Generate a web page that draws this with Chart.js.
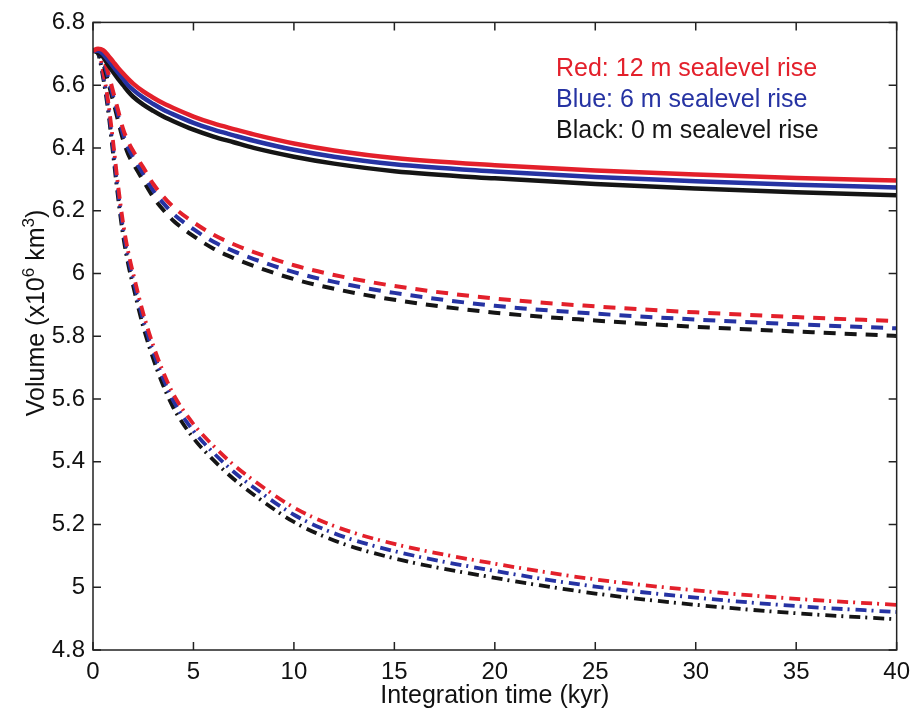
<!DOCTYPE html>
<html>
<head>
<meta charset="utf-8">
<script src="https://cdn.jsdelivr.net/npm/chart.js@4.4.1/dist/chart.umd.min.js"></script>
<style>
	html, body { margin: 0; padding: 0; background: #fff; }
	#wrap { width: 918px; height: 713px; }
</style>
</head>
<body>
<div id="wrap"><canvas id="volChart" width="918" height="713"></canvas></div>
<script>
// integration time, kyr
const timeKyr = [0, 0.25, 0.5, 0.75, 1, 1.25, 1.5, 1.75, 2, 2.5, 3, 3.5, 4, 5, 6, 7, 8, 10, 12, 15, 20, 25, 30, 35, 40];

// ice volume (x10^6 km^3) - solid runs
const solidRed   = [6.71, 6.716, 6.712, 6.695, 6.675, 6.655, 6.637, 6.62, 6.605, 6.58, 6.56, 6.542, 6.527, 6.50, 6.478, 6.46, 6.443, 6.414, 6.392, 6.368, 6.345, 6.328, 6.315, 6.304, 6.296];
const solidBlue  = [6.71, 6.71, 6.70, 6.68, 6.66, 6.64, 6.62, 6.60, 6.585, 6.56, 6.54, 6.522, 6.507, 6.48, 6.458, 6.44, 6.423, 6.394, 6.372, 6.348, 6.325, 6.307, 6.294, 6.283, 6.274];
const solidBlack = [6.71, 6.705, 6.69, 6.665, 6.642, 6.62, 6.60, 6.58, 6.563, 6.538, 6.518, 6.50, 6.485, 6.458, 6.436, 6.418, 6.40, 6.372, 6.35, 6.326, 6.303, 6.285, 6.271, 6.259, 6.249];

// dashed runs
const dashRed   = [6.71, 6.712, 6.69, 6.64, 6.58, 6.52, 6.46, 6.42, 6.39, 6.338, 6.285, 6.245, 6.212, 6.163, 6.123, 6.093, 6.068, 6.026, 5.995, 5.96, 5.92, 5.895, 5.876, 5.861, 5.848];
const dashBlue  = [6.71, 6.708, 6.68, 6.625, 6.565, 6.503, 6.443, 6.40, 6.37, 6.317, 6.264, 6.224, 6.19, 6.141, 6.101, 6.071, 6.046, 6.004, 5.973, 5.938, 5.897, 5.872, 5.853, 5.838, 5.825];
const dashBlack = [6.71, 6.704, 6.67, 6.61, 6.55, 6.486, 6.425, 6.38, 6.35, 6.296, 6.243, 6.202, 6.168, 6.119, 6.079, 6.049, 6.024, 5.982, 5.951, 5.916, 5.875, 5.85, 5.83, 5.815, 5.801];

// dash-dot runs
const dotRed   = [6.71, 6.71, 6.645, 6.55, 6.42, 6.28, 6.16, 6.07, 6.0, 5.873, 5.77, 5.685, 5.615, 5.52, 5.45, 5.39, 5.34, 5.254, 5.195, 5.138, 5.075, 5.025, 4.99, 4.963, 4.944];
const dotBlue  = [6.71, 6.705, 6.635, 6.535, 6.40, 6.26, 6.14, 6.05, 5.98, 5.852, 5.75, 5.664, 5.594, 5.498, 5.428, 5.368, 5.318, 5.231, 5.172, 5.115, 5.052, 5.002, 4.967, 4.94, 4.921];
const dotBlack = [6.71, 6.70, 6.625, 6.52, 6.38, 6.24, 6.12, 6.03, 5.96, 5.83, 5.728, 5.642, 5.572, 5.475, 5.405, 5.345, 5.295, 5.208, 5.149, 5.092, 5.03, 4.98, 4.944, 4.917, 4.898];

const xTicks = [0, 5, 10, 15, 20, 25, 30, 35, 40];
const yTicks = [4.8, 5, 5.2, 5.4, 5.6, 5.8, 6, 6.2, 6.4, 6.6, 6.8];

const legendText = ['Red: 12 m sealevel rise', 'Blue: 6 m sealevel rise', 'Black: 0 m sealevel rise'];

const RED = '#e3202b';
const BLUE = '#2633a3';
const BLACK = '#151515';
const FONT = '"Liberation Sans", Arial, Helvetica, sans-serif';

function makeSeries(vals, color, dash, width)
{
	return {
		data: timeKyr.map(function (t, i) { return {x: t, y: vals[i]}; }),
		borderColor: color,
		borderWidth: width,
		borderDash: dash,
		pointRadius: 0,
		fill: false,
		cubicInterpolationMode: 'monotone'
	};
}

// box round the plot with inward ticks on all sides
const boxPlugin = {
	id: 'boxTicks',
	afterDraw: function (chart)
	{
		const ctx = chart.ctx;
		const a = chart.chartArea;
		const xs = chart.scales.x, ys = chart.scales.y;
		const len = 8;
		ctx.save();
		ctx.strokeStyle = '#222';
		ctx.lineWidth = 1.5;
		ctx.strokeRect(a.left, a.top, a.right - a.left, a.bottom - a.top);
		ctx.beginPath();
		xTicks.forEach(function (v)
		{
			const px = xs.getPixelForValue(v);
			ctx.moveTo(px, a.bottom); ctx.lineTo(px, a.bottom - len);
			ctx.moveTo(px, a.top); ctx.lineTo(px, a.top + len);
		});
		yTicks.forEach(function (v)
		{
			const py = ys.getPixelForValue(v);
			ctx.moveTo(a.left, py); ctx.lineTo(a.left + len, py);
			ctx.moveTo(a.right, py); ctx.lineTo(a.right - len, py);
		});
		ctx.stroke();

		// colour key text
		const keyColors = [RED, BLUE, BLACK];
		ctx.font = '25px ' + FONT;
		ctx.textAlign = 'left';
		ctx.textBaseline = 'middle';
		legendText.forEach(function (t, i)
		{
			ctx.fillStyle = keyColors[i];
			ctx.fillText(t, a.left + 463, a.top + 47 + i * 31);
		});

		// y title with superscripts, rotated
		const parts = [['Volume (x10', false], ['6', true], [' km', false], ['3', true], [')', false]];
		const big = '25px ' + FONT, small = '17px ' + FONT;
		let total = 0;
		parts.forEach(function (p)
		{
			ctx.font = p[1] ? small : big;
			total += ctx.measureText(p[0]).width;
		});
		ctx.translate(35, 313);
		ctx.rotate(-Math.PI / 2);
		ctx.fillStyle = '#111';
		ctx.textBaseline = 'alphabetic';
		let cx = -total / 2;
		parts.forEach(function (p)
		{
			ctx.font = p[1] ? small : big;
			ctx.fillText(p[0], cx, p[1] ? -1 : 9);
			cx += ctx.measureText(p[0]).width;
		});
		ctx.restore();
	}
};

function drawVolumeChart(ctx)
{
	const config = {
		type: 'line',
		data: {
			datasets: [
				makeSeries(solidRed, RED, [], 4.5),
				makeSeries(solidBlue, BLUE, [], 4.5),
				makeSeries(solidBlack, BLACK, [], 4.5),
				makeSeries(dashRed, RED, [12, 9], 4),
				makeSeries(dashBlue, BLUE, [12, 9], 4),
				makeSeries(dashBlack, BLACK, [12, 9], 4),
				makeSeries(dotRed, RED, [11, 5, 2, 6], 3.8),
				makeSeries(dotBlue, BLUE, [11, 5, 2, 6], 3.8),
				makeSeries(dotBlack, BLACK, [11, 5, 2, 6], 3.8)
			]
		},
		options: {
			responsive: false,
			animation: false,
			devicePixelRatio: 1,
			layout: { padding: { top: 17, right: 17, left: 0, bottom: 0 } },
			plugins: {
				legend: { display: false },
				tooltip: { enabled: false }
			},
			scales: {
				x: {
					type: 'linear',
					min: 0,
					max: 40,
					afterFit: function (s) { s.height = 63; },
					afterBuildTicks: function (s) { s.ticks = xTicks.map(function (v) { return {value: v}; }); },
					grid: { display: false, drawTicks: false },
					border: { display: false },
					ticks: {
						autoSkip: false,
						maxRotation: 0,
						padding: 8,
						color: '#111',
						font: { family: FONT, size: 24 },
						callback: function (v) { return String(v); }
					},
					title: {
						display: true,
						text: 'Integration time (kyr)',
						color: '#111',
						font: { family: FONT, size: 25 },
						padding: { top: 0, bottom: 2 }
					}
				},
				y: {
					type: 'linear',
					min: 4.8,
					max: 6.8,
					afterFit: function (s) { s.width = 93; },
					afterBuildTicks: function (s) { s.ticks = yTicks.map(function (v) { return {value: v}; }); },
					grid: { display: false, drawTicks: false },
					border: { display: false },
					ticks: {
						autoSkip: false,
						padding: 8,
						color: '#111',
						font: { family: FONT, size: 24 },
						callback: function (v) { return String(+v.toFixed(1)); }
					}
				}
			}
		},
		plugins: [boxPlugin]
	};
	return new Chart(ctx, config);
}

drawVolumeChart(document.getElementById('volChart'));
</script>
</body>
</html>
